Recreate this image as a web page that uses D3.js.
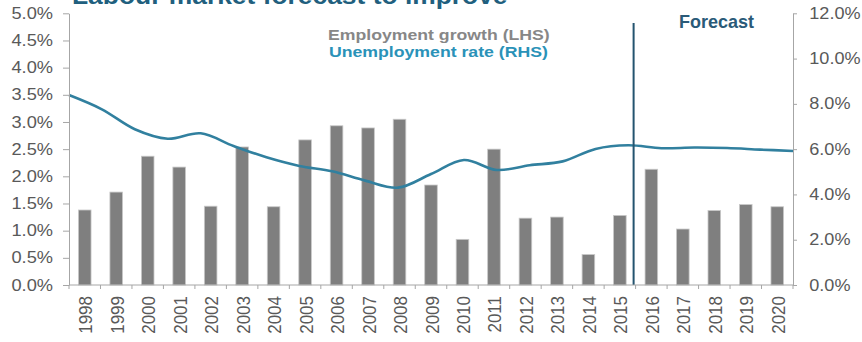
<!DOCTYPE html>
<html>
<head>
<meta charset="utf-8">
<script src="https://cdn.jsdelivr.net/npm/d3@7"></script>
<style>
  html, body { margin: 0; padding: 0; background: #fff; }
  svg { display: block; font-family: "Liberation Sans", Arial, sans-serif; }
</style>
</head>
<body>
<svg id="chart" width="862" height="342"></svg>
<script>
// Years on the category axis
const years = ["1998","1999","2000","2001","2002","2003","2004","2005","2006","2007","2008",
               "2009","2010","2011","2012","2013","2014","2015","2016","2017","2018","2019","2020"];
// Employment growth, % (left axis, bars)
const employmentGrowth = [1.38,1.71,2.37,2.17,1.45,2.54,1.44,2.67,2.93,2.89,3.05,
                          1.84,0.84,2.50,1.23,1.25,0.56,1.28,2.13,1.03,1.37,1.48,1.44];
// Unemployment rate, % (right axis, line)
const unemploymentRate = [8.39,7.76,6.88,6.46,6.70,6.14,5.64,5.26,5.02,4.61,4.30,
                          4.90,5.52,5.08,5.29,5.46,6.01,6.17,6.04,6.07,6.05,5.98,5.92];
const leftTicks = [0,0.5,1,1.5,2,2.5,3,3.5,4,4.5,5];
const rightTicks = [0,2,4,6,8,10,12];
const forecastStart = "2016";

const titleText = "Labour market forecast to improve";
const legendLabels = ["Employment growth (LHS)", "Unemployment rate (RHS)"];
const forecastLabel = "Forecast";

const svg = d3.select("#chart");
const x0 = 69, x1 = 793, yTop = 13.3, yBot = 285;
const axisColor = "#a6a6a6", labelColor = "#595959";
const barColor = "#7f7f7f", lineColor = "#31809f", darkBlue = "#24546f";

const xBand = d3.scaleBand().domain(years).range([x0, x1]).paddingInner(0.6).paddingOuter(0.3);
const xStep = d3.scaleBand().domain(years).range([x0, x1]).padding(0);
const xLine = d3.scalePoint().domain(years).range([x0, x1]).padding(0);
const yL = d3.scaleLinear().domain([0, 5]).range([yBot, yTop]);
const yR = d3.scaleLinear().domain([0, 12]).range([yBot, yTop]);

// Title (runs off the top edge)
svg.append("text")
  .attr("transform", `translate(72,3.5) scale(1.1,1)`)
  .attr("font-size", 24).attr("font-weight", "bold").attr("fill", "#215f7e")
  .text(titleText);

// Bars
svg.append("g").selectAll("rect").data(years).join("rect")
  .attr("x", d => xBand(d))
  .attr("width", xBand.bandwidth())
  .attr("y", (d, i) => yL(employmentGrowth[i]))
  .attr("height", (d, i) => yBot - yL(employmentGrowth[i]))
  .attr("fill", barColor)
  .attr("stroke", "#c8c8c8").attr("stroke-width", 0.8);

// Unemployment line
const line = d3.line()
  .x((d, i) => xLine(years[i]))
  .y(d => yR(d))
  .curve(d3.curveCatmullRom.alpha(0.5));
svg.append("path").datum(unemploymentRate)
  .attr("d", line).attr("fill", "none")
  .attr("stroke", lineColor).attr("stroke-width", 2.6);

// Forecast divider
const fx = xStep(forecastStart) - 2;
svg.append("line")
  .attr("x1", fx).attr("x2", fx).attr("y1", 23).attr("y2", yBot)
  .attr("stroke", darkBlue).attr("stroke-width", 2);
svg.append("text")
  .attr("transform", `translate(679,28.3) scale(1.03,1)`)
  .attr("font-size", 17.5).attr("font-weight", "bold").attr("fill", "#2a5a78")
  .text(forecastLabel);

// Legend
svg.append("text")
  .attr("transform", `translate(328,40) scale(1.14,1)`)
  .attr("font-size", 15.5).attr("font-weight", "bold").attr("fill", "#878787")
  .text(legendLabels[0]);
svg.append("text")
  .attr("transform", `translate(329,56.5) scale(1.14,1)`)
  .attr("font-size", 15.5).attr("font-weight", "bold").attr("fill", "#2a92b8")
  .text(legendLabels[1]);

// Left axis
const kL = 1.14;
const gL = svg.append("g").attr("transform", `translate(${x0},0)`)
  .call(d3.axisLeft(yL).tickValues(leftTicks).tickFormat(d => d.toFixed(1) + "%")
        .tickSize(6).tickPadding(10).tickSizeOuter(0));
gL.select(".domain").attr("stroke", axisColor);
gL.selectAll(".tick line").attr("stroke", axisColor);
gL.selectAll(".tick text")
  .attr("font-size", 16).attr("font-family", "Liberation Sans, Arial, sans-serif")
  .attr("fill", labelColor)
  .attr("x", -16 / kL).attr("transform", `scale(${kL},1)`);

// Right axis
const kR = 1.13;
const gR = svg.append("g").attr("transform", `translate(${x1},0)`)
  .call(d3.axisRight(yR).tickValues(rightTicks).tickFormat(d => d.toFixed(1) + "%")
        .tickSize(4).tickPadding(12).tickSizeOuter(0));
gR.select(".domain").attr("stroke", axisColor);
gR.selectAll(".tick line").attr("stroke", axisColor);
gR.selectAll(".tick text")
  .attr("font-size", 16).attr("font-family", "Liberation Sans, Arial, sans-serif")
  .attr("fill", labelColor)
  .attr("x", 16.3 / kR).attr("transform", `scale(${kR},1)`);

// Category axis: baseline, boundary ticks, rotated year labels
const gX = svg.append("g");
gX.append("line").attr("x1", x0).attr("x2", x1).attr("y1", yBot).attr("y2", yBot)
  .attr("stroke", axisColor);
const bounds = years.map(d => xStep(d)).concat([x1]);
gX.selectAll("line.tk").data(bounds).join("line").attr("class", "tk")
  .attr("x1", d => d).attr("x2", d => d).attr("y1", yBot).attr("y2", yBot + 4)
  .attr("stroke", axisColor);
gX.selectAll("text").data(years).join("text")
  .attr("transform", d => `translate(${xStep(d) + xStep.bandwidth() / 2 + 0.8},296) scale(1.1,1) rotate(-90)`)
  .attr("text-anchor", "end").attr("dy", "0.36em")
  .attr("font-size", 17).attr("fill", labelColor)
  .text(d => d);
</script>
</body>
</html>
